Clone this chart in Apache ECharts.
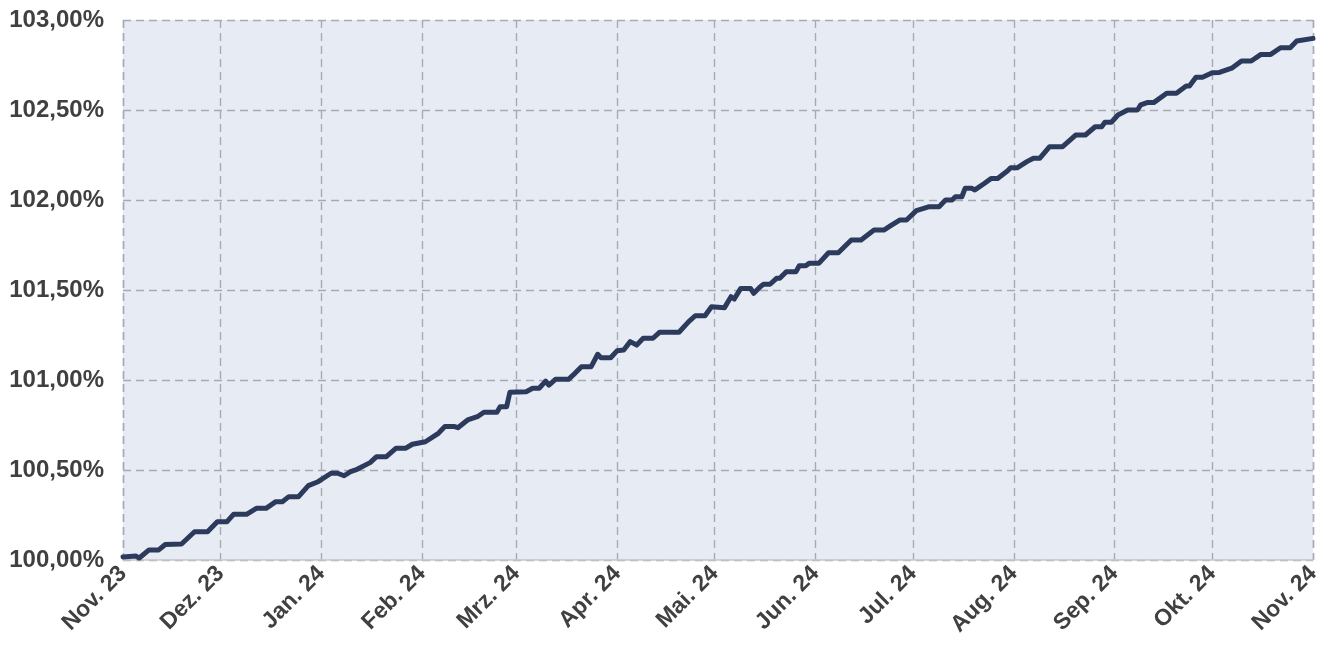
<!DOCTYPE html>
<html>
<head>
<meta charset="utf-8">
<script src="https://cdn.jsdelivr.net/npm/echarts@6/dist/echarts.min.js"></script>
<style>
  html, body { margin: 0; background: #ffffff; }
  #chart { width: 1328px; height: 652px; }
</style>
</head>
<body>
<div id="chart"></div>
<script>
// days counted from 1 Nov 2023, values in percent
const dayOffsets = [
  0, 4, 5, 8, 11, 13, 18, 22, 26, 29, 32, 34, 38, 41, 44, 47, 49, 51, 54, 57,
  60, 64, 66, 68, 70, 72, 76, 78, 81, 84, 87, 89, 93, 97, 99, 102, 103, 106, 109, 111,
  115, 116, 118, 119, 124, 126, 128, 130, 131, 133, 137, 139, 141, 144, 146, 147, 150, 152, 154, 156,
  158, 160, 163, 165, 171, 174, 176, 179, 181, 185, 187, 188, 190, 193, 194, 196, 197, 199, 201, 202,
  204, 207, 208, 210, 211, 214, 217, 220, 224, 227, 231, 234, 236, 239, 241, 244, 248, 251, 253, 255,
  256, 258, 259, 261, 262, 265, 267, 269, 272, 273, 275, 278, 280, 282, 285, 289, 293, 296, 299, 301,
  302, 304, 306, 309, 312, 313, 315, 317, 321, 324, 327, 328, 330, 332, 335, 337, 341, 344, 347, 350,
  353, 356, 359, 361, 366
];
const indexValues = [
  100.017, 100.022, 100.011, 100.056, 100.056, 100.086, 100.089, 100.157, 100.157, 100.213,
  100.213, 100.254, 100.254, 100.287, 100.287, 100.324, 100.324, 100.352, 100.352, 100.413,
  100.435, 100.482, 100.482, 100.468, 100.491, 100.504, 100.541, 100.574, 100.574, 100.621,
  100.621, 100.643, 100.657, 100.704, 100.741, 100.741, 100.735, 100.778, 100.796, 100.821,
  100.821, 100.852, 100.852, 100.932, 100.935, 100.954, 100.954, 100.994, 100.972, 101.004,
  101.004, 101.037, 101.074, 101.074, 101.143, 101.124, 101.124, 101.163, 101.167, 101.213,
  101.194, 101.232, 101.232, 101.265, 101.265, 101.324, 101.357, 101.357, 101.407, 101.402,
  101.463, 101.450, 101.509, 101.509, 101.482, 101.518, 101.532, 101.532, 101.565, 101.565,
  101.602, 101.602, 101.635, 101.635, 101.648, 101.648, 101.707, 101.707, 101.778, 101.778,
  101.833, 101.833, 101.856, 101.889, 101.889, 101.941, 101.963, 101.963, 102.000, 102.000,
  102.018, 102.018, 102.065, 102.065, 102.056, 102.093, 102.120, 102.120, 102.161, 102.179,
  102.179, 102.213, 102.232, 102.232, 102.296, 102.296, 102.361, 102.361, 102.407, 102.407,
  102.432, 102.432, 102.472, 102.500, 102.500, 102.528, 102.541, 102.541, 102.593, 102.593,
  102.633, 102.633, 102.682, 102.682, 102.707, 102.708, 102.732, 102.772, 102.772, 102.809,
  102.809, 102.846, 102.846, 102.883, 102.898
];
const monthNames = ["Jan.", "Feb.", "Mrz.", "Apr.", "Mai.", "Jun.", "Jul.", "Aug.", "Sep.", "Okt.", "Nov.", "Dez."];
const yMin = 100;
const yMax = 103;
const yStep = 0.5;

const start = new Date(2023, 10, 1).getTime();
const end = new Date(2024, 10, 1).getTime();
const dayMs = 24 * 3600 * 1000;
const points = dayOffsets.map((d, i) => [start + d * dayMs, indexValues[i]]);

const labelColor = "#404040";
const chart = echarts.init(document.getElementById("chart"), null, { renderer: "canvas" });
chart.setOption({
  animation: false,
  grid: {
    left: 123, right: 15, top: 20, bottom: 92,
    show: true, backgroundColor: "#e7ebf4", borderWidth: 0,
    containLabel: false,
  },
  xAxis: {
    type: "time",
    min: start,
    max: end,
    splitNumber: 12,
    minInterval: 28 * dayMs,
    maxInterval: 31 * dayMs,
    axisLine: { lineStyle: { color: "#c8c8cc", width: 1.5 } },
    axisTick: { show: false },
    splitLine: { show: true, lineStyle: { color: "#a7aab4", type: [8, 5], width: 1.4 } },
    axisLabel: {
      rotate: 45,
      margin: 10,
      color: labelColor,
      fontFamily: "Liberation Sans",
      fontWeight: "bold",
      fontSize: 23,
      showMinLabel: true,
      showMaxLabel: true,
      hideOverlap: false,
      formatter: (value) => {
        const d = new Date(value);
        return monthNames[d.getMonth()] + " " + String(d.getFullYear()).slice(2);
      },
    },
  },
  yAxis: {
    type: "value",
    min: yMin,
    max: yMax,
    interval: yStep,
    axisLine: { show: false },
    axisTick: { show: false },
    splitLine: { lineStyle: { color: "#a7aab4", type: [8, 5], width: 1.4 } },
    axisLabel: {
      margin: 19,
      color: labelColor,
      fontFamily: "Liberation Sans",
      fontWeight: "bold",
      fontSize: 24,
      formatter: (v) => v.toFixed(2).replace(".", ",") + "%",
    },
  },
  series: [{
    type: "line",
    data: points,
    showSymbol: false,
    smooth: false,
    lineStyle: { color: "#2c3a5c", width: 5, join: "round", cap: "round" },
  }],
});
</script>
</body>
</html>
